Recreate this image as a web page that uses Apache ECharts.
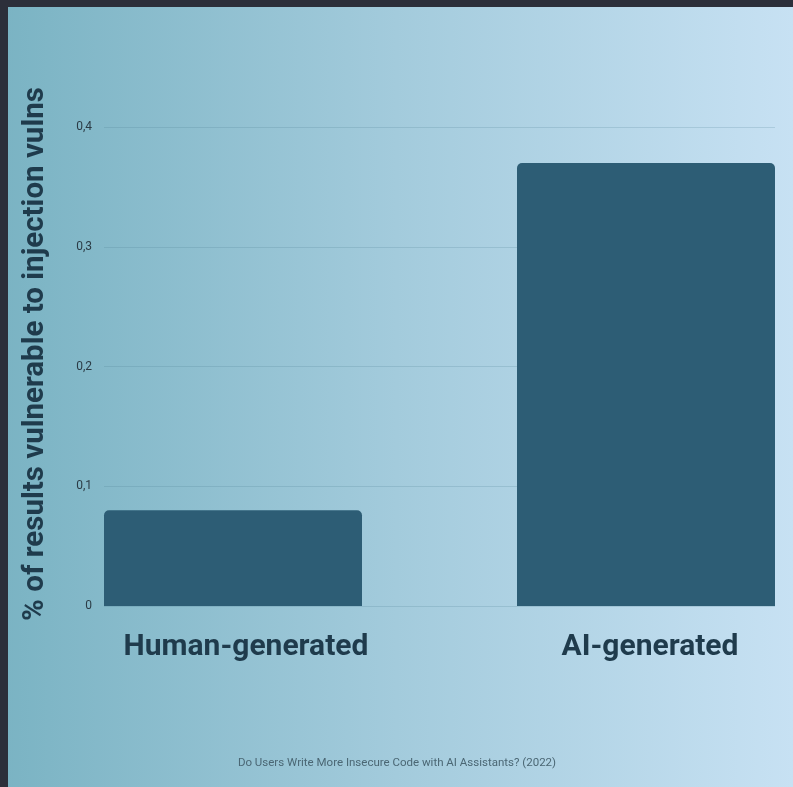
<!DOCTYPE html>
<html>
<head>
<meta charset="utf-8">
<script src="https://cdn.jsdelivr.net/npm/echarts@6/dist/echarts.min.js"></script>
<style>
  html, body { margin: 0; padding: 0; background: #2c2f3a; }
  #chart { width: 793px; height: 787px; }
</style>
</head>
<body>
<div id="chart"></div>
<script>
// Share of results vulnerable to injection, by code origin
const categories = ['Human-generated', 'AI-generated'];
const vulnShare = [0.08, 0.37];
const yTicks = [0, 0.1, 0.2, 0.3, 0.4];

const yTitle = '% of results vulnerable to injection vulns';
const source = 'Do Users Write More Insecure Code with AI Assistants? (2022)';

// small horizontal nudge of each category caption
const labelPadLeft = [26, 8];

const chart = echarts.init(document.getElementById('chart'), null, { renderer: 'canvas' });

const fmtTick = v => String(Number(v.toFixed(1))).replace('.', ',');

chart.setOption({
  animation: false,
  backgroundColor: {
    type: 'linear', x: 0, y: 0, x2: 1, y2: 0,
    colorStops: [
      { offset: 0, color: '#7ab3c3' },
      { offset: 0.5, color: '#a3cbdc' },
      { offset: 1, color: '#c7e1f3' }
    ]
  },
  grid: [
    // frame for the value scale and gridlines
    { left: 104, right: 18, top: 127, bottom: 181, outerBoundsMode: 'none' },
    // frame holding the bars (bands reach past the right edge)
    { left: 26.5, width: 826, top: 127, bottom: 181, outerBoundsMode: 'none' }
  ],
  xAxis: [
    { type: 'category', gridIndex: 0, data: categories, show: false },
    {
      type: 'category', gridIndex: 1,
      data: categories.map((c, i) => ({ value: c, textStyle: { padding: [0, 0, 0, labelPadLeft[i]] } })),
      axisLine: { show: false }, axisTick: { show: false },
      axisLabel: {
        margin: 26, fontFamily: 'Roboto', fontWeight: 'bold',
        fontSize: 30, color: '#1f3b4c'
      }
    }
  ],
  yAxis: [
    {
      type: 'value', gridIndex: 0, min: yTicks[0], max: yTicks[yTicks.length - 1], interval: 0.1,
      axisLine: { show: false }, axisTick: { show: false },
      axisLabel: {
        margin: 12, fontFamily: 'Roboto', fontSize: 12, color: '#2b3b45',
        formatter: v => fmtTick(v)
      },
      splitLine: { lineStyle: { color: 'rgba(70,120,140,0.2)', width: 1 } }
    },
    { type: 'value', gridIndex: 1, min: yTicks[0], max: yTicks[yTicks.length - 1], show: false }
  ],
  series: [{
    type: 'bar',
    xAxisIndex: 1, yAxisIndex: 1,
    data: vulnShare,
    barWidth: 258,
    itemStyle: { color: '#2d5d75', borderRadius: [5, 5, 0, 0] },
    z: 3
  }],
  graphic: [
    {
      type: 'text', x: 36, y: 354, rotation: Math.PI / 2,
      style: {
        text: yTitle, fontFamily: 'Roboto', fontWeight: 'bold', fontSize: 29.5,
        fill: '#1f3b4c', textAlign: 'center', textVerticalAlign: 'middle'
      }
    },
    {
      type: 'text', x: 397, y: 763,
      style: {
        text: source, fontFamily: 'Roboto', fontSize: 11.5,
        fill: '#4b6774', textAlign: 'center', textVerticalAlign: 'middle'
      }
    },
    // dark window frame along the top and left edges
    { type: 'rect', shape: { x: 0, y: 0, width: 793, height: 7 }, style: { fill: '#2c2f3a' }, z: 100 },
    { type: 'rect', shape: { x: 0, y: 0, width: 8, height: 787 }, style: { fill: '#2c2f3a' }, z: 100 }
  ]
});
</script>
</body>
</html>
